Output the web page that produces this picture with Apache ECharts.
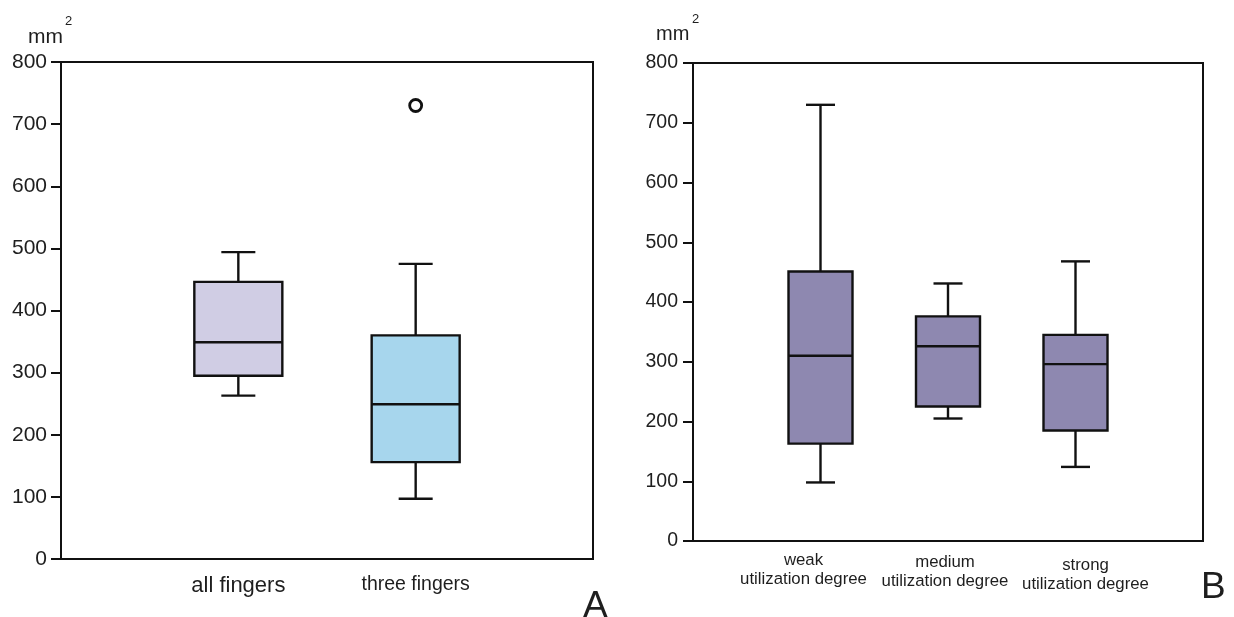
<!DOCTYPE html>
<html lang="en">
<head>
    <meta charset="UTF-8">
    <script src="https://cdn.jsdelivr.net/npm/echarts@6/dist/echarts.min.js"></script>
    <style>
        html, body { margin: 0; padding: 0; background: #fff; }
    </style>
</head>
<body>
<div style="width: 1234px;height: 617px" id="chart"></div>

<script>
    // panel A
    var leftGroups = ['all fingers', 'three fingers']
    var leftLow = [263, 97]
    var leftQ1 = [295, 156]
    var leftMedian = [349, 249]
    var leftQ3 = [446, 360]
    var leftHigh = [494, 475]
    var leftOutliers = [[2, 730]]   // [category index, value]
    var leftColors = ['#d0cde4', '#a7d6ed']

    // panel B
    var rightGroups = ['weak\nutilization degree', 'medium\nutilization degree', 'strong\nutilization degree']
    var rightLow = [98, 205, 124]
    var rightQ1 = [163, 225, 185]
    var rightMedian = [310, 326, 296]
    var rightQ3 = [451, 376, 345]
    var rightHigh = [730, 431, 468]
    var rightColors = ['#8e88b0', '#8e88b0', '#8e88b0']

    var yTicks = [0, 100, 200, 300, 400, 500, 600, 700, 800]

    var ink = '#111'
    var font = '"Liberation Sans", Arial, sans-serif'

    function boxRows(low, q1, med, q3, high) {
        return low.map(function (v, i) {
            return [i + 1, low[i], q1[i], med[i], q3[i], high[i], i]
        })
    }

    function makeRender(boxW, capW, colors) {
        return function (params, api) {
            var x = api.value(0)
            var lo = api.coord([x, api.value(1)])
            var a = api.coord([x, api.value(2)])
            var m = api.coord([x, api.value(3)])
            var b = api.coord([x, api.value(4)])
            var hi = api.coord([x, api.value(5)])
            var cx = lo[0]
            var st = { stroke: ink, lineWidth: 2.4 }
            return {
                type: 'group',
                children: [
                    { type: 'line', shape: { x1: cx, y1: b[1], x2: cx, y2: hi[1] }, style: st },
                    { type: 'line', shape: { x1: cx, y1: a[1], x2: cx, y2: lo[1] }, style: st },
                    { type: 'line', shape: { x1: cx - capW / 2, y1: hi[1], x2: cx + capW / 2, y2: hi[1] }, style: st },
                    { type: 'line', shape: { x1: cx - capW / 2, y1: lo[1], x2: cx + capW / 2, y2: lo[1] }, style: st },
                    { type: 'rect', shape: { x: cx - boxW / 2, y: b[1], width: boxW, height: a[1] - b[1] },
                      style: { fill: colors[api.value(6)], stroke: ink, lineWidth: 2.4 } },
                    { type: 'line', shape: { x1: cx - boxW / 2, y1: m[1], x2: cx + boxW / 2, y2: m[1] }, style: st }
                ]
            }
        }
    }

    function yAxisFor(gi, size, margin) {
        return {
            type: 'value', gridIndex: gi, min: 0, max: 800, interval: 100,
            axisLine: { show: true, lineStyle: { color: ink, width: 2 } },
            axisTick: { show: true, length: 10, lineStyle: { color: ink, width: 2 } },
            splitLine: { show: false },
            axisLabel: {
                color: '#1e1e1e', fontSize: size, fontFamily: font, margin: margin,
                formatter: function (v) { return yTicks.indexOf(v) >= 0 ? String(v) : '' }
            }
        }
    }

    var leftAxisData = [''].concat(leftGroups.map(function (g, i) {
        return { value: g, textStyle: { fontSize: i === 0 ? 22 : 19.5 } }
    })).concat([''])

    // labels in B sit a little off their boxes, as in the original figure
    var rightPads = [[0, 34, 0, 0], [2, 6, 0, 0], [5, 0, 0, 20]]
    var rightAxisData = [''].concat(rightGroups.map(function (g, i) {
        return { value: g, textStyle: { padding: rightPads[i] } }
    })).concat([''])

    var mCharts = echarts.init(document.getElementById('chart'))
    var option = {
        backgroundColor: '#fff',
        animation: false,
        grid: [
            { left: 61, top: 62, width: 532, height: 497, show: true, borderColor: ink, borderWidth: 2, backgroundColor: 'transparent' },
            { left: 693, top: 63, width: 510, height: 478, show: true, borderColor: ink, borderWidth: 2, backgroundColor: 'transparent' }
        ],
        xAxis: [
            {
                type: 'category', gridIndex: 0, data: leftAxisData, boundaryGap: false,
                axisLine: { lineStyle: { color: ink, width: 2 } },
                axisTick: { show: false },
                axisLabel: { color: '#1e1e1e', fontFamily: font, fontSize: 20, margin: 16, interval: 0 }
            },
            {
                type: 'category', gridIndex: 1, data: rightAxisData, boundaryGap: false,
                axisLine: { lineStyle: { color: ink, width: 2 } },
                axisTick: { show: false },
                axisLabel: { color: '#1e1e1e', fontFamily: font, fontSize: 16.8, lineHeight: 19, margin: 10, interval: 0 }
            }
        ],
        yAxis: [yAxisFor(0, 21, 14), yAxisFor(1, 19.5, 15)],
        series: [
            {
                type: 'custom', xAxisIndex: 0, yAxisIndex: 0,
                renderItem: makeRender(88, 34, leftColors),
                encode: { x: 0, y: [1, 2, 3, 4, 5] },
                data: boxRows(leftLow, leftQ1, leftMedian, leftQ3, leftHigh),
                clip: false
            },
            {
                type: 'scatter', xAxisIndex: 0, yAxisIndex: 0,
                symbol: 'circle', symbolSize: 12,
                itemStyle: { color: '#fff', borderColor: ink, borderWidth: 2.8, opacity: 1 },
                data: leftOutliers
            },
            {
                type: 'custom', xAxisIndex: 1, yAxisIndex: 1,
                renderItem: makeRender(64, 29, rightColors),
                encode: { x: 0, y: [1, 2, 3, 4, 5] },
                data: boxRows(rightLow, rightQ1, rightMedian, rightQ3, rightHigh),
                clip: false
            }
        ],
        graphic: [
            { type: 'text', left: 28, top: 27, style: { text: 'mm', font: '21px ' + font, fill: '#1e1e1e' } },
            { type: 'text', left: 65, top: 15, style: { text: '2', font: '13px ' + font, fill: '#1e1e1e' } },
            { type: 'text', left: 656, top: 24, style: { text: 'mm', font: '20px ' + font, fill: '#1e1e1e' } },
            { type: 'text', left: 692, top: 13, style: { text: '2', font: '13px ' + font, fill: '#1e1e1e' } },
            { type: 'text', left: 583, top: 588, style: { text: 'A', font: '37px ' + font, fill: '#1e1e1e' } },
            { type: 'text', left: 1201, top: 569, style: { text: 'B', font: '37px ' + font, fill: '#1e1e1e' } }
        ]
    }

    option && mCharts.setOption(option)
</script>
</body>
</html>
